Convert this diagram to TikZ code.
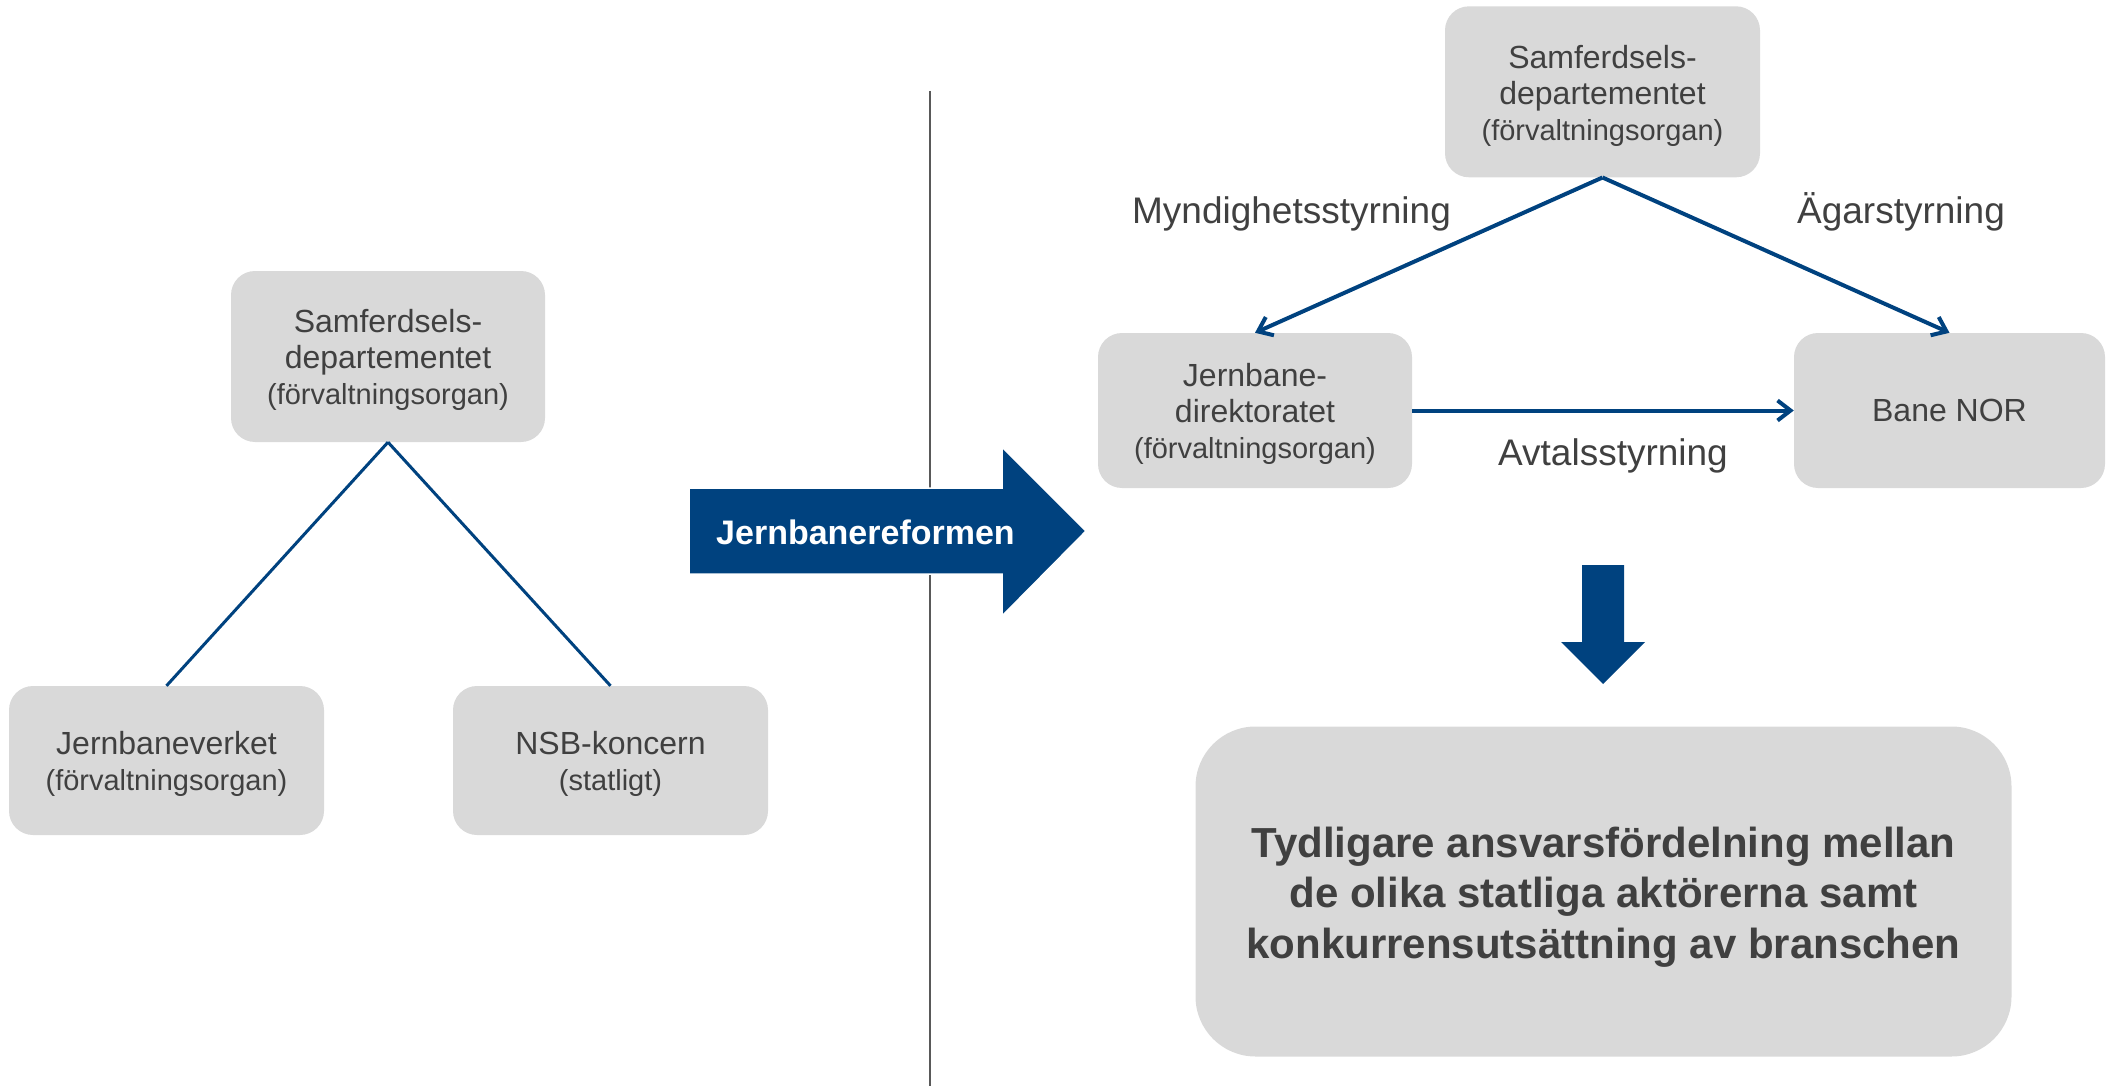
\documentclass[tikz,border=0pt]{standalone}
\usepackage{fontspec}
\setmainfont{Liberation Sans}
\usetikzlibrary{arrows.meta}
\definecolor{boxgray}{HTML}{D9D9D9}
\definecolor{txt}{HTML}{404040}
\definecolor{navy}{HTML}{00427F}
\definecolor{divider}{HTML}{595959}
\newcommand\liftline[1]{\rule{0pt}{#1}}
\begin{document}
\begin{tikzpicture}[x=1pt,y=-1pt,
  orgbox/.style={rectangle, rounded corners=24pt, fill=boxgray, draw=none, text=txt,
    align=center, inner sep=0pt, font=\fontsize{32}{36}\selectfont},
  conn/.style={navy, line width=3pt},
  arr/.style={navy, line width=4pt, -{Straight Barb[length=13pt,width=20pt]}},
  lbl/.style={text=txt, font=\fontsize{37}{44}\selectfont, anchor=base, inner sep=0pt},
]
\useasboundingbox (0,0) rectangle (2107,1086);

% divider
\coordinate (dtop) at (930,91);
\coordinate (dbot) at (930,1086);
\draw[divider, line width=1.5pt] (dtop) -- (dbot);

% left side
\node[orgbox, minimum width=314pt, minimum height=171pt] (L0) at (388,356.5)
  {\liftline{31pt}Samferdsels-\\departementet\\{\fontsize{29}{36}\selectfont (förvaltningsorgan)}};
\node[orgbox, minimum width=315pt, minimum height=149pt] (L1) at (166.5,760.5)
  {\liftline{30pt}Jernbaneverket\\{\fontsize{29}{36}\selectfont (förvaltningsorgan)}};
\node[orgbox, minimum width=315pt, minimum height=149pt] (L2) at (610.5,760.5)
  {\liftline{30pt}NSB-koncern\\{\fontsize{29}{36}\selectfont (statligt)}};
\draw[conn] (L0.south) -- (L1.north);
\draw[conn] (L0.south) -- (L2.north);

% reform arrow
\fill[navy, draw=white, line width=1.5pt] (689,488) -- (1002,488) -- (1002,447) -- (1086,531)
  -- (1002,616) -- (1002,574) -- (689,574) -- cycle;
\node[text=white, font=\fontsize{34}{40}\selectfont\bfseries, anchor=base, inner sep=0pt]
  (reform) at (865.5,544) {Jernbanereformen};

% right side
\node[orgbox, minimum width=315pt, minimum height=171pt] (R0) at (1602.5,91.8)
  {\liftline{31pt}Samferdsels-\\departementet\\{\fontsize{29}{37}\selectfont (förvaltningsorgan)}};
\node[orgbox, minimum width=314pt, minimum height=155pt] (R1) at (1255,410.5)
  {\liftline{31pt}Jernbane-\\direktoratet\\{\fontsize{29}{37}\selectfont (förvaltningsorgan)}};
\node[orgbox, minimum width=311pt, minimum height=155pt] (R2) at (1949.5,410.5)
  {Bane NOR};
\draw[arr] (R0.south) -- (R1.north);
\draw[arr] (R0.south) -- (R2.north);
\draw[arr] (R1.east) -- (R2.west);

\node[lbl] (myn) at (1291.5,223.7) {Myndighetsstyrning};
\node[lbl] (agar) at (1901,223.7) {Ägarstyrning};
\node[lbl] (avt) at (1613,465.5) {Avtalsstyrning};

% down arrow
\fill[navy] (1582,565) -- (1624,565) -- (1624,642) -- (1645,642) -- (1603,684)
  -- (1561,642) -- (1582,642) -- cycle;

% result box
\node[orgbox, rounded corners=60pt, minimum width=816pt, minimum height=330pt,
  font=\fontsize{42}{50.5}\selectfont\bfseries] (res) at (1603.5,891.5)
  {\liftline{41pt}Tydligare ansvarsfördelning mellan\\de olika statliga aktörerna samt\\konkurrensutsättning av branschen};
\end{tikzpicture}
\end{document}
